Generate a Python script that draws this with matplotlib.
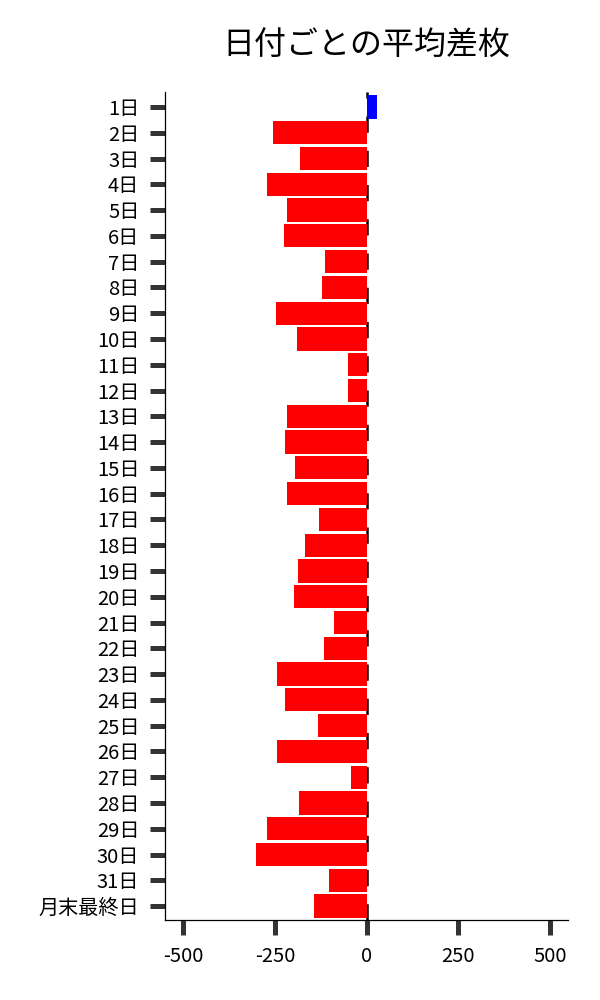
import matplotlib
matplotlib.use("Agg")
import matplotlib.pyplot as plt

plt.rcParams['font.family'] = ['Noto Sans CJK JP', 'DejaVu Sans']
plt.rcParams['axes.unicode_minus'] = False

days = [f"{d}日" for d in range(1, 32)] + ["月末最終日"]
diff = [28, -255, -182, -272, -217, -226, -114, -122, -247, -190,
        -52, -52, -217, -223, -196, -217, -130, -168, -187, -198,
        -90, -117, -245, -223, -133, -245, -43, -185, -272, -302,
        -103, -144]
xticks = [-500, -250, 0, 250, 500]

colors = ["#0000ff" if v > 0 else "#ff0000" for v in diff]

fig = plt.figure(figsize=(6, 10), dpi=100)
ax = fig.add_axes([0.275, 0.08, 0.672, 0.828])

ypos = list(range(len(days)))
ax.barh(ypos, diff, height=0.9, color=colors, zorder=2)
ax.axvline(0, color="black", lw=1.8, linestyle=(0, (6.5, 7.2)), zorder=1)

ax.set_yticks(ypos)
ax.set_yticklabels(days)
ax.set_ylim(len(days) - 0.46, -0.58)
ax.set_xlim(-550, 550)
ax.set_xticks(xticks)
ax.set_xticklabels([str(t) for t in xticks])

for s in ["top", "right"]:
    ax.spines[s].set_visible(False)
for s in ["left", "bottom"]:
    ax.spines[s].set_linewidth(0.9)
    ax.spines[s].set_color("black")

ax.tick_params(axis="both", length=11, width=3.6, color="#333333",
               labelsize=14.5, pad=7.5)

ax.set_title("日付ごとの平均差枚", fontsize=23, pad=27)

fig.savefig("out.png", dpi=100, facecolor="white")
